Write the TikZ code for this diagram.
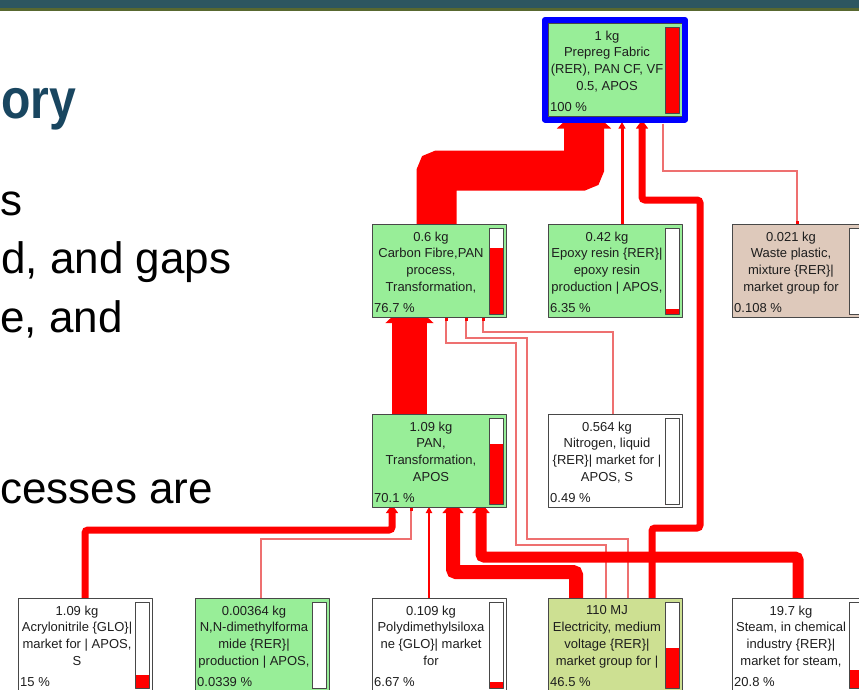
\documentclass[tikz,border=0pt]{standalone}
\usepackage{fontspec}
\setmainfont{Liberation Sans}
\usetikzlibrary{arrows.meta,calc,backgrounds}

\definecolor{flowred}{RGB}{255,0,0}
\definecolor{feedred}{RGB}{238,112,112}
\definecolor{procgreen}{RGB}{152,238,152}
\definecolor{elecgreen}{RGB}{205,224,146}
\definecolor{wastetan}{RGB}{222,201,187}
\definecolor{boxgray}{RGB}{72,72,72}
\definecolor{txtgray}{RGB}{30,30,30}
\definecolor{selblue}{RGB}{0,0,255}
\definecolor{bandteal}{RGB}{45,86,96}
\definecolor{bandolive}{RGB}{88,104,48}
\definecolor{titleblue}{RGB}{25,70,96}

\tikzset{
  procbox/.style={anchor=north west, draw=boxgray, line width=1pt, inner sep=0pt,
    minimum width=134pt, minimum height=93pt},
  proctext/.style={anchor=north, inner sep=0pt, align=center, text=txtgray,
    font=\fontsize{13}{16.8}\selectfont},
  procpct/.style={anchor=base west, inner sep=0pt, text=txtgray,
    font=\fontsize{13}{16.8}\selectfont},
  barline/.style={draw=boxgray, line width=0.8pt},
  feed/.style={draw=feedred, line width=1.5pt,
    -{Square[length=3pt,width=3pt,color=flowred]}},
  flow/.code={%
    \pgfmathsetmacro\flowtipw{1.25*#1+3}%
    \pgfmathsetmacro\flowtipl{0.5*#1+5}%
    \pgfmathsetmacro\flowext{5-\flowtipl}%
    \edef\flowargs{draw=flowred, line width=#1pt, rounded corners=3pt,
      -{Triangle[width=\flowtipw pt, length=\flowtipl pt]}, shorten >=\flowext pt}%
    \expandafter\pgfkeysalso\expandafter{\flowargs}},
  bodytext/.style={anchor=base west, inner sep=0pt, font=\fontsize{44}{52}\selectfont},
}

% name, left, top, fill, share, lines, percent
\newcommand{\procnode}[7]{%
  \node[procbox, fill=#4] (#1) at (#2,#3) {};
  \node[proctext] at ($(#1.north west)+(59,7.5)$) {#6};
  \node[procpct] at ($(#1.north west)+(2,88)$) {#7};
  \fill[white] ($(#1.north west)+(117,4)$) rectangle ($(#1.north west)+(131,90)$);
  \fill[flowred] ($(#1.north west)+(117,{90-86*#5})$) rectangle ($(#1.north west)+(131,90)$);
  \draw[barline] ($(#1.north west)+(117,4)$) rectangle ($(#1.north west)+(131,90)$);
}

\begin{document}
\begin{tikzpicture}[x=1pt,y=-1pt,line join=round]
  \useasboundingbox (0,0) rectangle (859,689);
  % slide header and text
  \fill[bandteal] (0,0) rectangle (859,8);
  \fill[bandolive] (0,8) rectangle (859,11);
  \node[anchor=base west, inner sep=0pt, text=titleblue,
    font=\fontsize{56}{60}\selectfont\bfseries] (ttl) at (1,118) {\scalebox{0.86}[1]{ory}};
  \node[bodytext] (ln1) at (0,215) {s};
  \node[bodytext] (ln2) at (1,273) {d, and gaps};
  \node[bodytext] (ln3) at (0,332) {e, and};
  \node[bodytext] (ln4) at (0,503) {cesses are};

  % process boxes
  \procnode{pf}{548}{23}{procgreen}{1}{1 kg\\Prepreg Fabric\\(RER), PAN CF, VF\\0.5, APOS}{100 \%}
  \draw[selblue, line width=6pt] (545,20) rectangle (685,119.5);
  \coordinate (pfb) at ($(pf.south)+(0,6.5)$);
  \procnode{cf}{372}{224}{procgreen}{0.767}{0.6 kg\\Carbon Fibre,PAN\\process,\\Transformation,}{76.7 \%}
  \procnode{ep}{548}{224}{procgreen}{0.0635}{0.42 kg\\Epoxy resin \{RER\}|\\epoxy resin\\production | APOS,}{6.35 \%}
  \procnode{wp}{732}{224}{wastetan}{0.00108}{0.021 kg\\Waste plastic,\\mixture \{RER\}|\\market group for}{0.108 \%}
  \procnode{pan}{372}{414}{procgreen}{0.701}{1.09 kg\\PAN,\\Transformation,\\APOS}{70.1 \%}
  \procnode{ni}{548}{414}{white}{0.0049}{0.564 kg\\Nitrogen, liquid\\\{RER\}| market for |\\APOS, S}{0.49 \%}
  \procnode{acr}{18}{598}{white}{0.15}{1.09 kg\\Acrylonitrile \{GLO\}|\\market for | APOS,\\S}{15 \%}
  \procnode{dmf}{195}{598}{procgreen}{0.000339}{0.00364 kg\\N,N-dimethylforma\\mide \{RER\}|\\production | APOS,}{0.0339 \%}
  \procnode{pdms}{372}{598}{white}{0.0667}{0.109 kg\\Polydimethylsiloxa\\ne \{GLO\}| market\\for}{6.67 \%}
  \procnode{el}{548}{598}{elecgreen}{0.465}{110 MJ\\Electricity, medium\\voltage \{RER\}|\\market group for |}{46.5 \%}
  \procnode{st}{732}{598}{white}{0.208}{19.7 kg\\Steam, in chemical\\industry \{RER\}|\\market for steam,}{20.8 \%}

  % flows, behind the boxes
  \begin{pgfonlayer}{background}
    \fill[white] (0,0) rectangle (859,689);
    \draw[feed] (663,0 |- pfb) -- (663,171) -- (797,171) -- (797,0 |- wp.north);
    \draw[feed] (613,0 |- ni.north) -- (613,332) -- (483,332) -- (483,0 |- cf.south);
    \draw[feed] (606,0 |- el.north) -- (606,545) -- (516,545) -- (516,343) -- (446,343) -- (446,0 |- cf.south);
    \draw[feed] (628,0 |- el.north) -- (628,539) -- (527,539) -- (527,338) -- (466,338) -- (466,0 |- cf.south);
    \draw[feed] (261,0 |- dmf.north) -- (261,539) -- (411,539) -- (411,0 |- pan.south);
    \draw[flow=2.5] (429,0 |- pdms.north) -- (429,0 |- pan.south);
    \draw[flow=3] (622,0 |- ep.north) -- (622,0 |- pfb);
    \draw[flow=7] (85,0 |- acr.north) -- (85,530) -- (392,530) -- (392,0 |- pan.south);
    \draw[flow=14] (576,0 |- el.north) -- (576,572) -- (453,572) -- (453,0 |- pan.south);
    \draw[flow=7] (652,0 |- el.north) -- (652,528) -- (700,528) -- (700,200) -- (642,200) -- (642,0 |- pfb);
    \draw[flow=11] (798,0 |- st.north) -- (798,557) -- (481,557) -- (481,0 |- pan.south);
    \draw[flow=35] (409.5,0 |- pan.north) -- (409.5,0 |- cf.south);
    \draw[flow=40] (436.5,0 |- cf.north) -- (436.5,170.5) -- (584,170.5) -- (584,0 |- pfb);
  \end{pgfonlayer}
\end{tikzpicture}
\end{document}
